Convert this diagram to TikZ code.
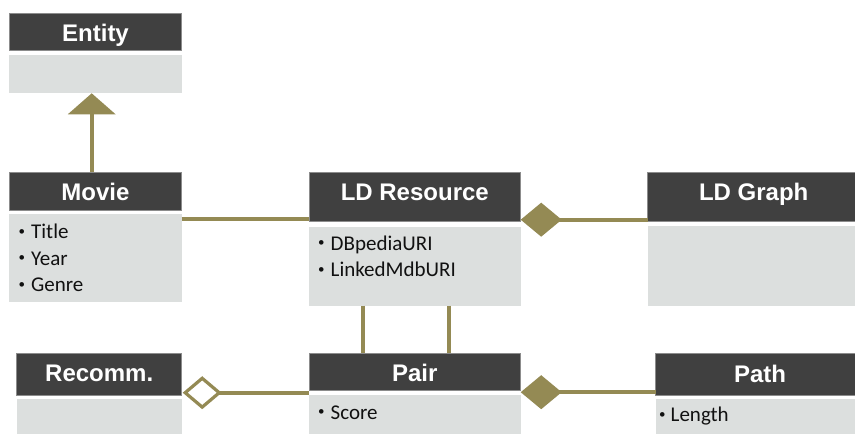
\documentclass[tikz,border=0pt]{standalone}
\usepackage{fontspec}
\newfontfamily\hdrfont{Liberation Sans}
\newfontfamily\bodyfont{Carlito}
\usetikzlibrary{arrows.meta}
\definecolor{hdrgray}{HTML}{404040}
\definecolor{hdredge}{HTML}{8C8C8C}
\definecolor{bodygray}{HTML}{DCDFDE}
\definecolor{olive}{HTML}{948A54}
\definecolor{itemtext}{HTML}{111111}
% small bullet followed by a fixed gap before the attribute name
\newcommand\itemdot[1][12.5pt]{\makebox[#1][l]{\raisebox{3.3pt}{\fontsize{13}{13}\selectfont •}}}

\begin{document}
\begin{tikzpicture}[x=1pt,y=-1pt,
  hdrbox/.style={draw=hdredge, line width=0.8pt, fill=hdrgray, inner sep=0pt, outer sep=0pt, anchor=north west},
  bodybox/.style={fill=bodygray, inner sep=0pt, outer sep=0pt, anchor=north west},
  title/.style={anchor=base, text=white, inner sep=0pt, font=\hdrfont\bfseries\fontsize{24}{28}\selectfont},
  item/.style={anchor=base west, text=itemtext, inner sep=0pt, font=\bodyfont\fontsize{21}{25}\selectfont},
  link/.style={draw=olive, line width=4pt},
  inherit/.style={link, -{Triangle[length=21pt,width=47pt]}},
  compose/.style={link, {Diamond[length=41pt,width=34pt]}-},
  aggregate/.style={link, {Diamond[length=39pt,width=33pt,line width=3.2pt,fill=white]}-}
]
\useasboundingbox (0,0) rectangle (855,434);
\clip (0,0) rectangle (855,434);

% ---- class boxes: header + attribute compartment ----
% Entity
\node[hdrbox, minimum width=172.4pt, minimum height=37.4pt] (entity-h) at (9.3,13.3) {};
\node[bodybox, minimum width=172.4pt, minimum height=38.3pt] (entity-b) at (9.3,55) {};
\node[title] (entity-t) at (95.5,41.7) {Entity};

% Movie
\node[hdrbox, minimum width=172.4pt, minimum height=38.4pt] (movie-h) at (9.3,172.3) {};
\node[bodybox, minimum width=172.4pt, minimum height=87.4pt] (movie-b) at (9.3,214.3) {};
\node[title] (movie-t) at (95.5,200) {Movie};
\node[item] (movie-1) at (18.5,238.3) {\itemdot Title};
\node[item] (movie-2) at (18.5,265) {\itemdot Year};
\node[item] (movie-3) at (18.5,291.7) {\itemdot Genre};

% LD Resource
\node[hdrbox, minimum width=211.7pt, minimum height=49.4pt] (ldr-h) at (309,172.3) {};
\node[bodybox, minimum width=211.7pt, minimum height=79pt] (ldr-b) at (309,226.7) {};
\node[title] (ldr-t) at (414.8,200) {LD Resource};
\node[item] (ldr-1) at (318,250) {\itemdot DBpediaURI};
\node[item] (ldr-2) at (318,276.7) {\itemdot LinkedMdbURI};

% LD Graph
\node[hdrbox, minimum width=212.3pt, minimum height=49.4pt] (ldg-h) at (647.7,172.3) {};
\node[bodybox, minimum width=212.3pt, minimum height=79.7pt] (ldg-b) at (647.7,226) {};
\node[title] (ldg-t) at (753.7,200) {LD Graph};

% Recomm.
\node[hdrbox, minimum width=165pt, minimum height=41.7pt] (rec-h) at (16.7,353.3) {};
\node[bodybox, minimum width=165pt, minimum height=41pt] (rec-b) at (16.7,399) {};
\node[title] (rec-t) at (99.2,381.7) {Recomm.};

% Pair
\node[hdrbox, minimum width=211.7pt, minimum height=37.4pt] (pair-h) at (309,353.3) {};
\node[bodybox, minimum width=211.7pt, minimum height=45pt] (pair-b) at (309,395) {};
\node[title] (pair-t) at (414.8,381.7) {Pair};
\node[item] (pair-1) at (318,419) {\itemdot Score};

% Path
\node[hdrbox, minimum width=208.3pt, minimum height=41.7pt] (path-h) at (655.7,353.3) {};
\node[bodybox, minimum width=208.3pt, minimum height=41pt] (path-b) at (655.7,399) {};
\node[title] (path-t) at (760,382.7) {Path};
\node[item] (path-1) at (659,421.7) {\itemdot[11.5pt]Length};

% ---- connectors ----
\coordinate (inhx) at (91.7,0);
\coordinate (v1) at (362.7,0);
\coordinate (v2) at (449.3,0);

% Movie is an Entity
\draw[inherit] (movie-h.north -| inhx) -- (entity-b.south -| inhx);
% Movie -- LD Resource
\draw[link] ([yshift=-5pt]movie-b.north east) -- ([yshift=-5pt]movie-b.north east -| ldr-h.west);
% LD Graph contains LD Resource
\draw[compose] ([yshift=2pt]ldr-h.south east) -- ([yshift=2pt]ldr-h.south east -| ldg-h.west);
% Pair refers to two LD Resources
\draw[link] (ldr-b.south -| v1) -- (pair-h.north -| v1);
\draw[link] (ldr-b.south -| v2) -- (pair-h.north -| v2);
% Recomm. aggregates Pairs
\draw[aggregate] ([xshift=1pt,yshift=2.3pt]rec-h.south east) -- ([yshift=2.3pt]rec-h.south east -| pair-h.west);
% Pair owns Path
\draw[compose] ([yshift=-1.5pt]pair-h.south east) -- ([yshift=-1.5pt]pair-h.south east -| path-h.west);
\end{tikzpicture}
\end{document}
